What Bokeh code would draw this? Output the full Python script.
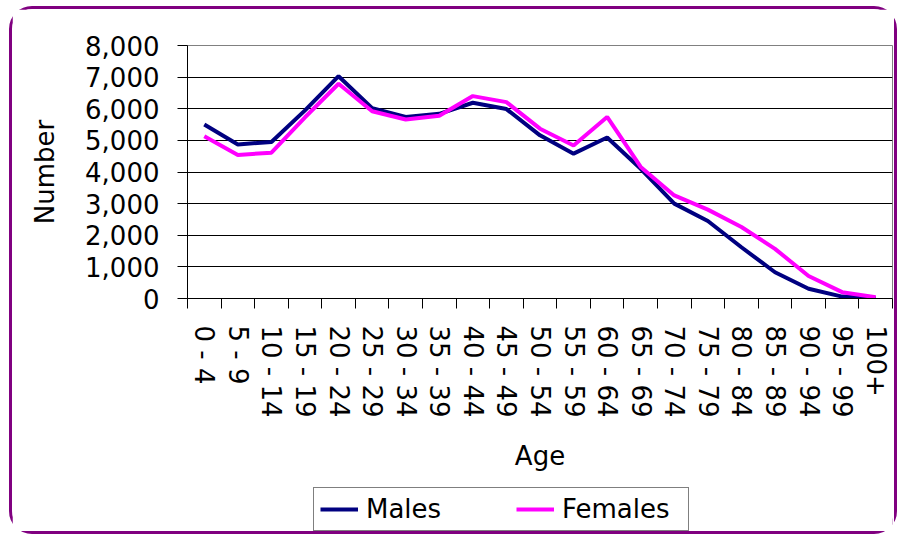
import math
from bokeh.plotting import figure
from bokeh.layouts import column
from bokeh.models import (FixedTicker, Range1d, Legend, LegendItem, NumeralTickFormatter)
from bokeh.embed import file_html
from bokeh.resources import INLINE

ages = ["0 - 4", "5 - 9", "10 - 14", "15 - 19", "20 - 24", "25 - 29", "30 - 34",
        "35 - 39", "40 - 44", "45 - 49", "50 - 54", "55 - 59", "60 - 64", "65 - 69",
        "70 - 74", "75 - 79", "80 - 84", "85 - 89", "90 - 94", "95 - 99", "100+"]
males = [5500, 4870, 4950, 5950, 7030, 6020, 5740, 5840, 6190, 5990, 5160, 4580,
         5090, 4100, 3000, 2450, 1620, 830, 310, 60, 10]
females = [5130, 4540, 4610, 5730, 6790, 5920, 5660, 5780, 6400, 6210, 5370, 4840,
           5740, 4160, 3260, 2810, 2260, 1570, 710, 200, 40]
y_ticks = [0, 1000, 2000, 3000, 4000, 5000, 6000, 7000, 8000]
series_names = ["Males", "Females"]
series_colors = ["#000080", "#FF00FF"]

FONT = "DejaVu Sans"
xs = [i + 0.5 for i in range(len(ages))]

p = figure(width=882, height=475, output_backend="svg", toolbar_location=None,
           x_range=Range1d(0, len(ages)), y_range=Range1d(0, 8000),
           min_border_left=175, min_border_right=2, min_border_top=36,
           min_border_bottom=186)
p.background_fill_color = "white"
p.border_fill_color = "white"
p.outline_line_color = "#808080"
p.outline_line_width = 1

p.line(xs, males, line_color=series_colors[0], line_width=4)
p.line(xs, females, line_color=series_colors[1], line_width=4)

# x axis
p.xaxis.ticker = FixedTicker(ticks=xs, minor_ticks=list(range(len(ages) + 1)))
p.xaxis.major_label_overrides = {x: a for x, a in zip(xs, ages)}
p.xaxis.major_tick_line_color = None
p.xaxis.minor_tick_line_color = "black"
p.xaxis.minor_tick_out = 10
p.xaxis.minor_tick_in = 0
p.xaxis.major_label_orientation = -math.pi / 2
p.xaxis.major_label_standoff = 17
p.xaxis.major_label_text_font = FONT
p.xaxis.major_label_text_font_size = "26px"
p.xaxis.major_label_text_color = "black"
p.xaxis.axis_line_color = "black"
p.xaxis.axis_label = "Age"
p.xaxis.axis_label_text_font = FONT
p.xaxis.axis_label_text_font_size = "26px"
p.xaxis.axis_label_text_font_style = "normal"
p.xaxis.axis_label_text_color = "black"
p.xaxis.axis_label_standoff = 20

# y axis
p.yaxis.ticker = FixedTicker(ticks=y_ticks)
p.yaxis.formatter = NumeralTickFormatter(format="0,0")
p.yaxis.major_tick_out = 10
p.yaxis.major_tick_in = 0
p.yaxis.minor_tick_line_color = None
p.yaxis.major_label_standoff = 18
p.yaxis.major_label_text_font = FONT
p.yaxis.major_label_text_font_size = "26px"
p.yaxis.major_label_text_color = "black"
p.yaxis.axis_line_color = "black"
p.yaxis.axis_label = "Number"
p.yaxis.axis_label_text_font = FONT
p.yaxis.axis_label_text_font_size = "26px"
p.yaxis.axis_label_text_font_style = "normal"
p.yaxis.axis_label_text_color = "black"
p.yaxis.axis_label_standoff = 22

p.xgrid.visible = False
p.ygrid.ticker = FixedTicker(ticks=y_ticks[1:-1])
p.ygrid.grid_line_color = "black"
p.ygrid.grid_line_width = 1

# legend strip below the chart (its series lie outside its visible range)
lf = figure(width=882, height=47, output_backend="svg", toolbar_location=None,
            x_axis_location=None, y_axis_location=None,
            x_range=Range1d(0, 1), y_range=Range1d(-1, 0),
            min_border_left=0, min_border_right=0, min_border_top=0,
            min_border_bottom=0)
lf.outline_line_color = None
lf.xgrid.visible = False
lf.ygrid.visible = False
lf.border_fill_color = "white"
lf.background_fill_color = "white"
items = []
for name, col, vals in zip(series_names, series_colors, [males, females]):
    r = lf.line(xs, vals, line_color=col, line_width=4)
    items.append(LegendItem(label=name, renderers=[r]))
legend = Legend(items=items, orientation="horizontal", location=(126, 0),
                glyph_width=38, label_standoff=8, spacing=30, padding=6,
                label_width=120, margin=0, label_text_font=FONT,
                label_text_font_size="26px", label_text_color="black",
                border_line_color="black", border_line_width=1,
                background_fill_color="white", background_fill_alpha=1)
lf.add_layout(legend)

layout = column(p, lf, spacing=0)
layout.margin = (9, 0, 0, 12)
layout.styles = {"outline": "3px solid #800080", "outline-offset": "0px",
                 "border-radius": "20px"}

open("out.html", "w").write(file_html(layout, INLINE))
